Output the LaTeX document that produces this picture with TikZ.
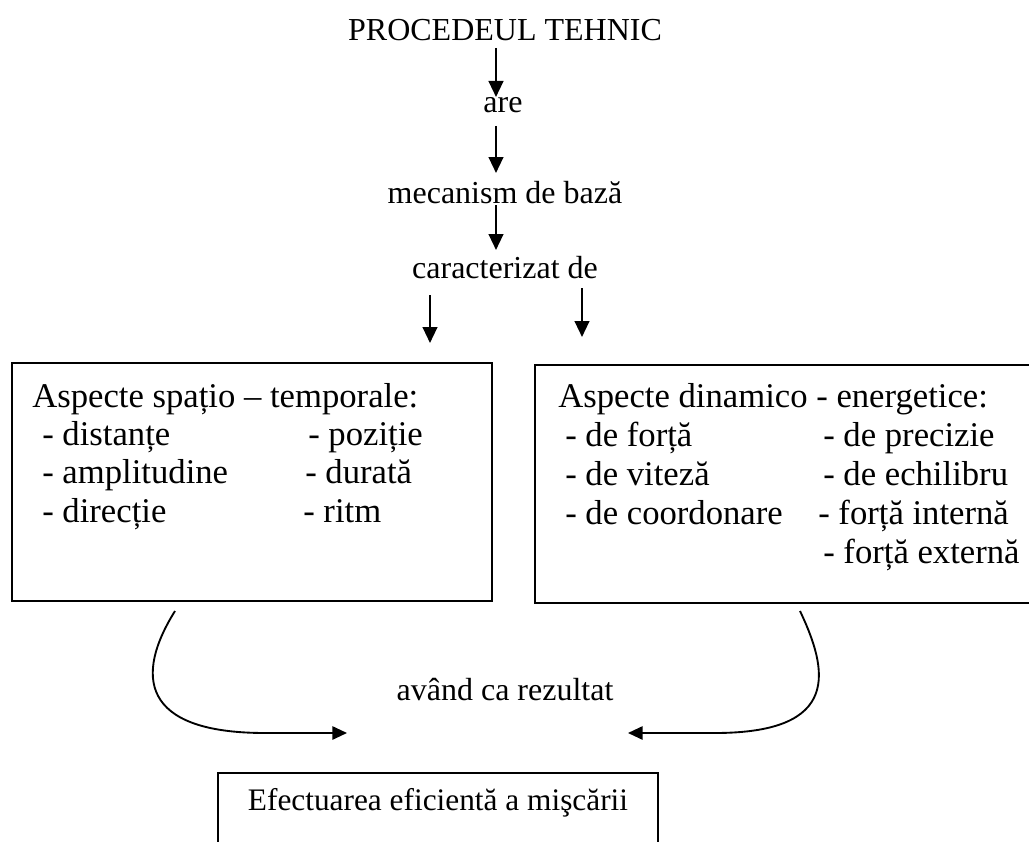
\documentclass[tikz,border=0pt]{standalone}
\usepackage{fontspec}
\setmainfont{Liberation Serif}
\usetikzlibrary{arrows.meta,calc}
\tikzset{
  lbl/.style={inner sep=0pt, anchor=base, font=\fontsize{24pt}{28pt}\selectfont},
  boxtxt/.style={inner sep=0pt, anchor=base west, font=\fontsize{26pt}{30pt}\selectfont},
  frame/.style={draw, line width=1.2pt, inner sep=0pt, outer sep=0pt, anchor=north west},
  arr/.style={line width=1.7pt, -{Triangle[length=12pt,width=11pt]}},
  carr/.style={line width=1.4pt, -{Triangle[length=11pt,width=10pt]}}
}
\begin{document}
\begin{tikzpicture}[x=0.75pt, y=-0.75pt]
\useasboundingbox (0,0) rectangle (1029,842);

% top labels
\node[lbl] (P)   at (505,41)  {PROCEDEUL TEHNIC};
\node[lbl] (are) at (503,113) {are};
\node[lbl] (mec) at (505,203) {mecanism de bază};
\node[lbl] (car) at (505,278) {caracterizat de};

% boxes
\node[frame, minimum width=480*0.75pt, minimum height=238*0.75pt] (L) at (12,363) {};
\node[frame, minimum width=515*0.75pt, minimum height=238*0.75pt] (R) at (535,365) {};
\node[frame, minimum width=440*0.75pt, minimum height=110*0.75pt] (B) at (218,773) {};

% left box text
\node[boxtxt] (l0) at (32,407)  {Aspecte spațio – temporale:};
\node[boxtxt] (l1) at (42,445)  {- distanțe};
\node[boxtxt] (l2) at (42,483)  {- amplitudine};
\node[boxtxt] (l3) at (42,522)  {- direcție};
\node[boxtxt] (l4) at (308,445) {- poziție};
\node[boxtxt] (l5) at (305,483) {- durată};
\node[boxtxt] (l6) at (303,522) {- ritm};

% right box text
\node[boxtxt] (r0) at (558,407) {Aspecte dinamico - energetice:};
\node[boxtxt] (r1) at (565,446) {- de forță};
\node[boxtxt] (r2) at (565,485) {- de viteză};
\node[boxtxt] (r3) at (565,524) {- de coordonare};
\node[boxtxt] (r4) at (823,446) {- de precizie};
\node[boxtxt] (r5) at (823,485) {- de echilibru};
\node[boxtxt] (r6) at (818,524) {- forță internă};
\node[boxtxt] (r7) at (823,563) {- forță externă};

% result label and bottom text
\node[lbl] (rez) at (505,700) {având ca rezultat};
\node[lbl, font=\fontsize{23.5pt}{27pt}\selectfont] (eff) at (438,810) {Efectuarea eficientă a mişcării};

% arrow x positions
\coordinate (ax) at (496,0);
\coordinate (bx) at (430,0);
\coordinate (cx) at (582,0);
\coordinate (dx) at (175,0);
\coordinate (ex) at (800,0);
\coordinate (tipL) at (347,733);
\coordinate (tipR) at (628,733);

\draw[arr] ($(P.base -| ax)+(0,7)$) -- ($(are.base -| ax)+(0,-16)$);
\draw[arr] ($(are.base -| ax)+(0,13)$) -- ($(mec.base -| ax)+(0,-30)$);
\draw[arr] ($(mec.base -| ax)+(0,2)$) -- ($(car.base -| ax)+(0,-28)$);
\draw[arr] ($(car.base -| bx)+(0,17)$) -- ($(L.north -| bx)+(0,-20)$);
\draw[arr] ($(car.base -| cx)+(0,10)$) -- ($(R.north -| cx)+(0,-28)$);

\draw[carr] ($(L.south -| dx)+(0,10)$) .. controls (135,675) and (140,733) .. (265,733) -- (tipL);
\draw[carr] ($(R.south -| ex)+(0,8)$) .. controls (828,670) and (842,733) .. (715,733) -- (tipR);
\end{tikzpicture}
\end{document}
